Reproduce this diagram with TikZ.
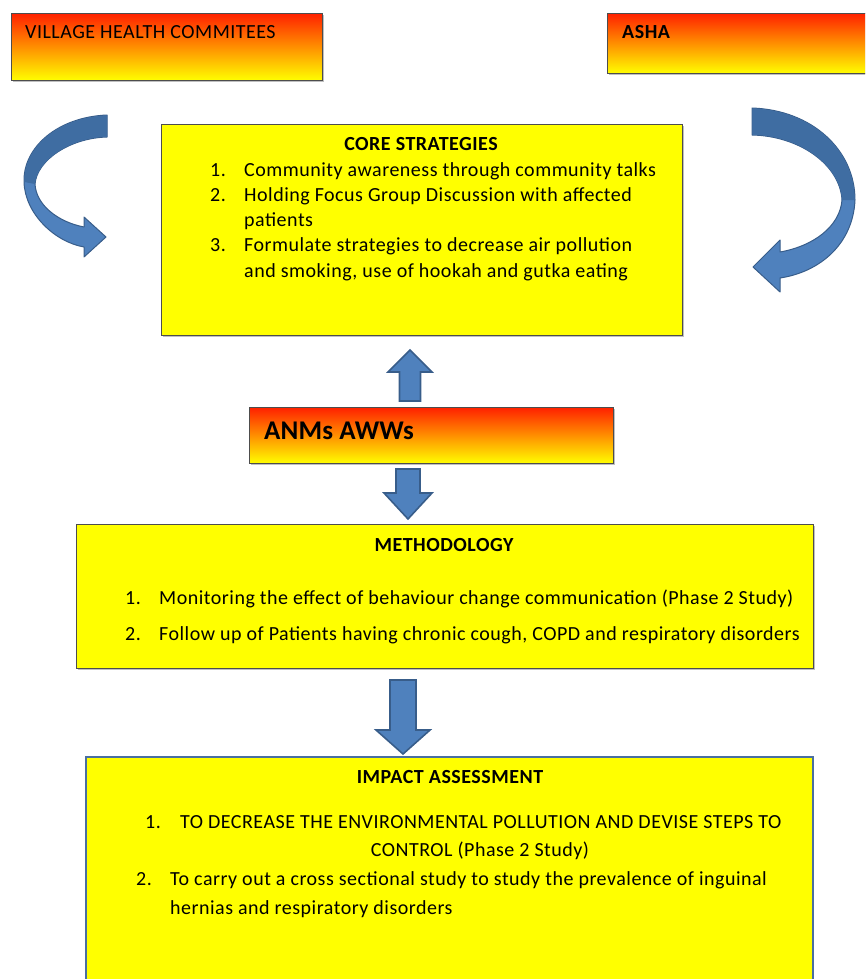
\documentclass[tikz,border=0pt]{standalone}
\usepackage{fontspec}
\setmainfont{Carlito}[LetterSpace=2.5]
\usetikzlibrary{shadows}
\definecolor{arrowblue}{HTML}{4F81BD}
\definecolor{arrowdark}{HTML}{3F6DA2}
\definecolor{arrowedge}{HTML}{385D8A}
\definecolor{boxedge}{HTML}{4D4D4D}
\definecolor{impactedge}{HTML}{4A6FA0}
\definecolor{gradred}{HTML}{FF2200}
\definecolor{gradorange}{HTML}{FFA200}
\definecolor{gradyellow}{HTML}{FFFF00}
\tikzset{
  softshadow/.style={drop shadow={shadow xshift=1.5pt,shadow yshift=-1.5pt,fill=black,opacity=0.25}},
  gradbox/.style={draw=boxedge,line width=1.2pt,top color=gradred,middle color=gradorange,bottom color=gradyellow,anchor=north west,inner sep=0pt,softshadow},
  yellowbox/.style={draw=boxedge,line width=1.2pt,fill=gradyellow,anchor=north west,inner sep=0pt,softshadow},
  impactbox/.style={draw=impactedge,line width=2pt,fill=gradyellow,anchor=north west,inner sep=0pt},
  txt/.style={anchor=base west,inner sep=0pt,font=\fontsize{20}{24}\selectfont},
  ctxt/.style={anchor=base,inner sep=0pt,font=\fontsize{20}{24}\selectfont},
  btxt/.style={anchor=base,inner sep=0pt,font=\fontsize{20}{24}\selectfont\bfseries},
  blockarrow/.style={fill=arrowblue,draw=arrowedge,line width=1.6pt,line join=miter},
  curvearrow/.style={fill=arrowblue,draw=arrowedge,line width=1pt,line join=round},
}
\begin{document}
\begin{tikzpicture}[x=1pt,y=-1pt]
\useasboundingbox (0,0) rectangle (865,979);
\clip (0,0) rectangle (865,979);

% boxes
\node[gradbox,minimum width=311pt,minimum height=67pt] (vhc) at (11,13) {};
\node[gradbox,minimum width=280pt,minimum height=60pt] (asha) at (607,13) {};
\node[yellowbox,minimum width=521pt,minimum height=211pt] (core) at (161,124) {};
\node[gradbox,minimum width=364pt,minimum height=56pt] (anm) at (249,407) {};
\node[yellowbox,minimum width=737pt,minimum height=144pt] (meth) at (76,524) {};
\node[impactbox,minimum width=727pt,minimum height=260pt] (impact) at (85,756) {};

% box texts
\node[txt] (vhct) at (25,39) {VILLAGE HEALTH COMMITEES};
\node[txt,font=\fontsize{20}{24}\selectfont\bfseries] (ashat) at (622,39) {ASHA};
\node[txt,font=\fontsize{27}{30}\selectfont\bfseries\addfontfeature{LetterSpace=0.5}] (anmt) at (264,439) {ANMs AWWs};

\node[btxt] (coret) at (421,150) {CORE STRATEGIES};
\node[txt] (c1n) at (210,176) {1.};
\node[txt] (c1) at (244,176) {Community awareness through community talks};
\node[txt] (c2n) at (210,201) {2.};
\node[txt] (c2) at (244,201) {Holding Focus Group Discussion with affected};
\node[txt] (c2b) at (244,226) {patients};
\node[txt] (c3n) at (210,251) {3.};
\node[txt] (c3) at (244,251) {Formulate strategies to decrease air pollution};
\node[txt] (c3b) at (244,277) {and smoking, use of hookah and gutka eating};

\node[btxt] (metht) at (444,551) {METHODOLOGY};
\node[txt] (m1n) at (125,604) {1.};
\node[txt] (m1) at (159,604) {Monitoring the effect of behaviour change communication (Phase 2 Study)};
\node[txt] (m2n) at (125,640) {2.};
\node[txt] (m2) at (159,640) {Follow up of Patients having chronic cough, COPD and respiratory disorders};

\node[btxt] (impt) at (450,783) {IMPACT ASSESSMENT};
\node[txt] (i1n) at (145,828) {1.};
\node[txt] (i1) at (180,828) {TO DECREASE THE ENVIRONMENTAL POLLUTION AND DEVISE STEPS TO};
\node[ctxt] (i1b) at (480,856) {CONTROL (Phase 2 Study)};
\node[txt] (i2n) at (136,885) {2.};
\node[txt] (i2) at (170,885) {To carry out a cross sectional study to study the prevalence of inguinal};
\node[txt] (i2b) at (170,914) {hernias and respiratory disorders};

% block arrows
\draw[blockarrow] (399.5,401) -- (399.5,372) -- (388,372) -- (410,350) -- (432,372) -- (420.5,372) -- (420.5,401) -- cycle;
\draw[blockarrow] (396,469) -- (420,469) -- (420,493) -- (432,493) -- (408,519) -- (384,493) -- (396,493) -- cycle;
\draw[blockarrow] (390,680) -- (416,680) -- (416,730) -- (430,730) -- (403,754) -- (376,730) -- (390,730) -- cycle;

% left curved arrow
\draw[curvearrow] (107,115) .. controls (58,117) and (23,147) .. (24,182)
  .. controls (25,214) and (55,242) .. (84,247) -- (84,257) -- (106,237) -- (84,217) -- (84,227)
  .. controls (58,222) and (36,205) .. (35,184)
  .. controls (37,160) and (70,138) .. (107,137) -- cycle;
\fill[arrowdark] (107,115.5) .. controls (58,117.5) and (23.5,147) .. (24.5,182) -- (35,184)
  .. controls (37,160) and (70,138) .. (107,136.5) -- cycle;

% right curved arrow
\draw[curvearrow] (752,108) .. controls (812,110) and (855,150) .. (855,200)
  .. controls (853,244) and (820,272) .. (780,278) -- (780,292) -- (753,267) -- (780,240) -- (780,252)
  .. controls (814,246) and (840,226) .. (842,200)
  .. controls (840,165) and (800,136) .. (752,135) -- cycle;
\fill[arrowdark] (752.5,108.5) .. controls (812,110.5) and (854.5,150) .. (854.5,200) -- (842,200)
  .. controls (840,165) and (800,136) .. (752.5,134.5) -- cycle;
\end{tikzpicture}
\end{document}
